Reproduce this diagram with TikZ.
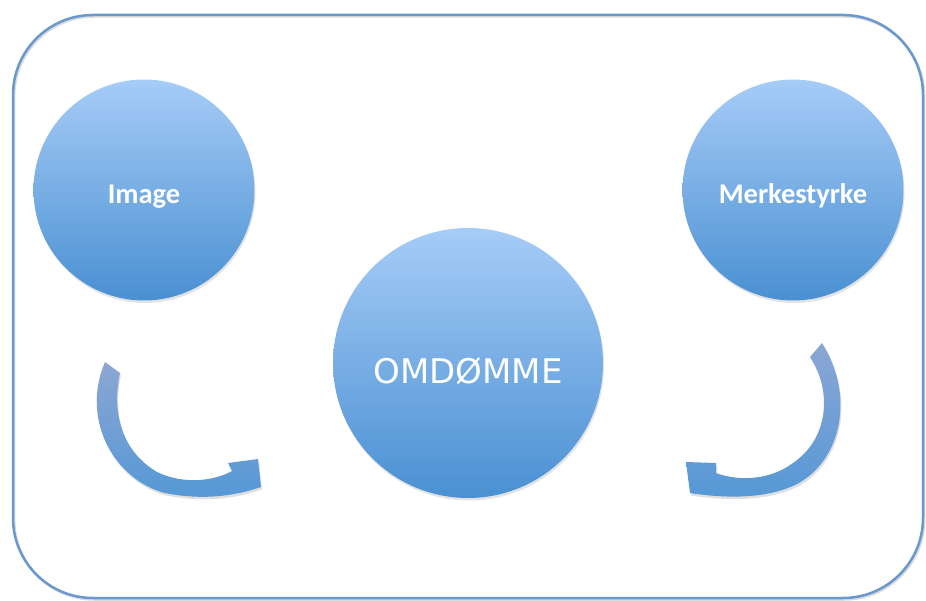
\documentclass[tikz,border=0pt]{standalone}
\usepackage{fontspec}
\setmainfont{Carlito}
\newfontfamily\omdfont{DejaVu Sans}
\usetikzlibrary{shadows}
\definecolor{circtop}{RGB}{166,204,247}
\definecolor{circbot}{RGB}{74,144,210}
\definecolor{arrtop}{RGB}{140,166,212}
\definecolor{arrbot}{RGB}{84,152,214}
\definecolor{framec}{RGB}{104,152,206}
\begin{document}
\begin{tikzpicture}[x=1pt,y=-1pt,
  bubble/.style={circle, top color=circtop, bottom color=circbot, draw=none,
    drop shadow={opacity=0.22, shadow xshift=1pt, shadow yshift=-2.5pt}},
  bubbletext/.style={text=white, font=\bfseries\fontsize{28.5}{30}\selectfont, anchor=base, inner sep=0pt},
  curvearrow/.style={top color=arrtop, bottom color=arrbot,
    drop shadow={opacity=0.25, shadow xshift=1pt, shadow yshift=-2.5pt}},
  framebox/.style={framec, line width=2.5pt, rounded corners=80pt}]
\useasboundingbox (0,0) rectangle (926,601);
% frame
\draw[black!40, opacity=0.35, line width=2.5pt, rounded corners=80pt] (14.2,16.5) rectangle (924.2,599.5);
\draw[framebox] (13,15) rectangle (923,598);
% circles
\node[bubble, minimum size=221pt] (img) at (144,190) {};
\node[bubbletext] (imgtxt) at (144,204) {Image};
\node[bubble, minimum size=221pt] (merk) at (793,190) {};
\node[bubbletext] (merktxt) at (793,204) {Merkestyrke};
\node[bubble, minimum size=270pt] (omd) at (468,363) {};
\node[text=white, font=\omdfont\fontsize{34}{36}\selectfont, anchor=base, inner sep=0pt] (omdtxt) at (468,383) {OMDØMME};
% left curved arrow
\path[curvearrow] (105,362) -- (120,373)
  .. controls (112,410) and (120,450) .. (157,472)
  .. controls (182,484) and (212,482) .. (232,471)
  -- (228,463) -- (258,459) -- (261,487)
  .. controls (232,497) and (200,500) .. (165,493)
  .. controls (115,480) and (80,420) .. (105,362) -- cycle;
% right curved arrow
\path[curvearrow] (822,343) -- (810,357)
  .. controls (832,390) and (830,440) .. (790,465)
  .. controls (770,479) and (740,482) .. (716,473)
  -- (716,463) -- (686,462) -- (690,493)
  .. controls (722,498) and (765,500) .. (797,484)
  .. controls (842,460) and (855,395) .. (822,343) -- cycle;
\end{tikzpicture}
\end{document}
